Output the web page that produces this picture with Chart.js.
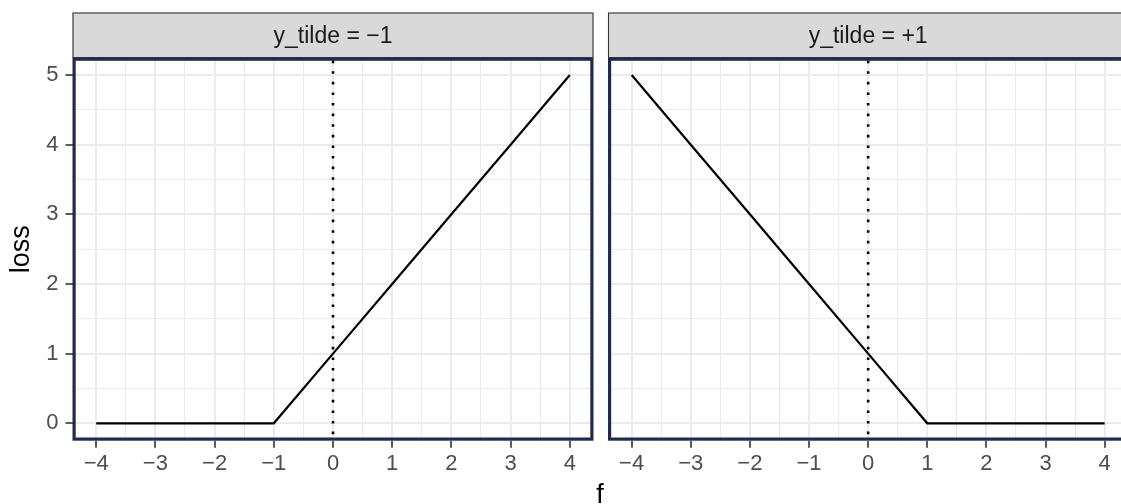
<!DOCTYPE html>
<html>
<head>
<meta charset="utf-8">
<script src="https://cdn.jsdelivr.net/npm/chart.js@4/dist/chart.umd.min.js"></script>
<style>
	html, body { margin: 0; padding: 0; background: #fff; overflow: hidden; }
	#wrap { position: relative; width: 1121px; height: 504px; overflow: hidden; }
	canvas { position: absolute; top: 0; }
	#leftChart { left: 0; }
	#rightChart { left: 600px; }
	#xTitle { position: absolute; left: 540px; width: 120px; top: 481px; text-align: center;
		font: 27px "Liberation Sans", Arial, sans-serif; line-height: 27px; color: #000; }
</style>
</head>
<body>
<div id="wrap">
	<canvas id="leftChart" width="600" height="504"></canvas>
	<canvas id="rightChart" width="540" height="504"></canvas>
	<div id="xTitle">f</div>
</div>
<script>
// data
var fValues = [-4, -3, -2, -1, 0, 1, 2, 3, 4];
var lossNeg = [0, 0, 0, 0, 1, 2, 3, 4, 5];   // y_tilde = -1
var lossPos = [5, 4, 3, 2, 1, 0, 0, 0, 0];   // y_tilde = +1
var panelLabels = ['y_tilde = \u22121', 'y_tilde = +1'];
var xTicks = [-4, -3, -2, -1, 0, 1, 2, 3, 4];
var yTicks = [0, 1, 2, 3, 4, 5];
var vlineAt = 0;

var xMin = -4.4, xMax = 4.4, yMin = -0.25, yMax = 5.25;
var FONT = '"Liberation Sans", Arial, sans-serif';
Chart.defaults.font.family = FONT;

// majors plus the half steps between them
function withMinor(ticks) {
	var out = [];
	for (var i = 0; i < ticks.length; i++) {
		out.push(ticks[i]);
		if (i < ticks.length - 1) out.push((ticks[i] + ticks[i + 1]) / 2);
	}
	return out;
}
function fmt(v) {
	if (!Number.isInteger(v)) return '';
	return v < 0 ? '\u2212' + Math.abs(v) : String(v);
}
function isMajor(ctx) {
	return ctx.tick && Number.isInteger(ctx.tick.value);
}

var facetPlugin = {
	id: 'facet',
	afterDatasetsDraw: function (chart) {
		var a = chart.chartArea, c = chart.ctx;
		var px = chart.scales.x.getPixelForValue(vlineAt);
		c.save();
		c.strokeStyle = '#000';
		c.lineWidth = 2.6;
		c.setLineDash([2.6, 8]);
		c.beginPath();
		c.moveTo(px, a.top + 3);
		c.lineTo(px, a.bottom);
		c.stroke();
		c.restore();
	},
	afterDraw: function (chart) {
		var a = chart.chartArea, c = chart.ctx;
		var label = chart.options.plugins.facet.label;
		c.save();
		// strip
		c.fillStyle = '#D9D9D9';
		c.fillRect(a.left, 13, a.right - a.left, a.top - 13);
		c.strokeStyle = '#333333';
		c.lineWidth = 1.1;
		c.strokeRect(a.left + 0.5, 13, a.right - a.left - 1, a.top - 13);
		c.fillStyle = '#1A1A1A';
		c.font = '23px ' + FONT;
		c.textAlign = 'center';
		c.textBaseline = 'middle';
		c.fillText(label, (a.left + a.right) / 2, (13 + a.top) / 2 + 1);
		// panel border
		c.strokeStyle = '#222B4E';
		c.lineWidth = 3.2;
		c.strokeRect(a.left + 1.6, a.top + 1.6, a.right - a.left - 3.2, a.bottom - a.top - 3.2);
		c.restore();
	}
};

function panel(id, lossValues, label, showY, padding) {
	var canvas = document.getElementById(id);
	var ctx = canvas.getContext('2d');
	var points = fValues.map(function (f, i) { return { x: f, y: lossValues[i] }; });
	var gridOpts = {
		color: '#EBEBEB',
		lineWidth: function (c) { return isMajor(c) ? 2 : 1.1; },
		tickColor: function (c) { return isMajor(c) ? '#333333' : 'rgba(0,0,0,0)'; },
		tickWidth: 1.6,
		tickLength: 7
	};
	new Chart(ctx, {
		type: 'line',
		data: {
			datasets: [{
				data: points,
				borderColor: '#000',
				borderWidth: 2.2,
				pointRadius: 0,
				tension: 0,
				fill: false
			}]
		},
		options: {
			responsive: false,
			animation: false,
			layout: { padding: padding },
			plugins: {
				legend: { display: false },
				tooltip: { enabled: false },
				facet: { label: label }
			},
			scales: {
				x: {
					type: 'linear',
					min: xMin,
					max: xMax,
					afterBuildTicks: function (s) {
						s.ticks = withMinor(xTicks).map(function (v) { return { value: v }; });
					},
					afterFit: function (s) { s.height = 63.3; },
					border: { display: false },
					grid: gridOpts,
					ticks: {
						autoSkip: false,
						maxRotation: 0,
						padding: 3,
						color: '#4D4D4D',
						font: { size: 22 },
						callback: fmt
					}
				},
				y: {
					type: 'linear',
					min: yMin,
					max: yMax,
					afterBuildTicks: function (s) {
						s.ticks = withMinor(yTicks).map(function (v) { return { value: v }; });
					},
					afterFit: function (s) { s.width = showY ? 72.5 : 0; },
					border: { display: false },
					grid: Object.assign({}, gridOpts, { drawTicks: showY }),
					title: {
						display: showY,
						text: 'loss',
						color: '#000',
						font: { size: 27 },
						padding: { top: 5, bottom: 0 }
					},
					ticks: {
						display: showY,
						autoSkip: false,
						padding: 7,
						color: '#4D4D4D',
						font: { size: 22 },
						callback: fmt
					}
				}
			}
		},
		plugins: [facetPlugin]
	});
}

panel('leftChart', lossNeg, panelLabels[0], true, { left: 0, right: 6.5, top: 57.6, bottom: 0 });
panel('rightChart', lossPos, panelLabels[1], false, { left: 8, right: 11.7, top: 57.6, bottom: 0 });
</script>
</body>
</html>
